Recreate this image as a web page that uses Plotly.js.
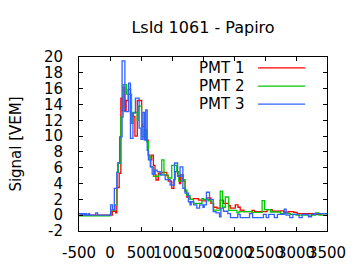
<!DOCTYPE html>
<html><head><meta charset="utf-8">
<script src="https://cdn.plot.ly/plotly-3.0.1.min.js"></script>
<style>html,body{margin:0;padding:0;background:#fff}</style>
</head><body><div id="chart" style="width:360px;height:270px"></div>
<script>
const seriesNames = ["PMT 1", "PMT 2", "PMT 3"];
const seriesColors = ["#ff0000", "#00c800", "#3060ff"];

const pmt1X = [-500, 40, 90, 110, 148, 175, 200, 212, 240, 260, 293, 332, 365, 402, 440, 510, 526, 564, 591, 617, 645, 672, 700, 726, 742, 780, 834, 915, 940, 996, 1030, 1050, 1090, 1119, 1140, 1184, 1211, 1238, 1292, 1346, 1427, 1481, 1562, 1627, 1670, 1724, 1778, 1831, 1912, 1940, 2021, 2064, 2100, 2160, 2237, 2291, 2330, 2534, 2615, 2750, 2800, 2884, 2965, 3020, 3316, 3400, 3500];
const pmt1Y = [0.0, 0.5, 0.3, 3.5, 5.3, 14.8, 13.2, 16.2, 13.2, 14.5, 15.9, 12.9, 12.5, 10.0, 14.5, 11.5, 11.2, 10.5, 9.5, 7.6, 7.0, 7.6, 6.3, 5.1, 4.45, 5.3, 5.4, 5.0, 4.3, 3.4, 4.5, 5.5, 5.0, 4.0, 5.1, 4.3, 3.0, 2.3, 2.0, 2.1, 1.9, 1.8, 2.2, 1.5, 1.0, 0.9, 1.9, 1.5, 1.2, 0.9, 1.3, 1.0, 0.65, 0.45, 0.45, 0.6, 0.45, 0.7, 0.5, 0.55, 0.4, 0.45, 0.35, 0.2, 0.1, 0.2, 0.2];

const pmt2X = [-500, 0, 25, 83, 115, 135, 175, 212, 267, 348, 374, 439, 455, 510, 548, 590, 620, 660, 700, 780, 834, 870, 936, 996, 1077, 1110, 1158, 1180, 1211, 1238, 1290, 1346, 1482, 1508, 1590, 1640, 1670, 1778, 1815, 1860, 1915, 2048, 2080, 2290, 2453, 2495, 2588, 2750, 2910, 3000, 3316, 3370, 3500];
const pmt2Y = [-0.1, 0.1, 0.65, 1.3, 5.4, 6.6, 12.4, 16.5, 15.3, 11.6, 13.0, 12.0, 13.8, 9.9, 10.8, 9.3, 7.5, 6.1, 4.9, 5.1, 7.0, 5.1, 4.7, 6.3, 5.5, 4.3, 5.0, 4.5, 3.2, 2.5, 2.0, 1.5, 2.1, 2.0, 1.8, 1.5, 0.65, 3.05, 1.0, 2.3, 0.6, 0.3, 0.45, 0.35, 1.85, 0.7, 0.4, 0.2, 0.1, 0.0, 0.3, 0.0, 0.0];

const pmt3X = [-500, -470, -450, -420, -400, -380, -350, -330, -230, -200, 10, 40, 70, 110, 125, 155, 195, 240, 300, 330, 370, 410, 470, 500, 530, 555, 575, 600, 620, 650, 680, 720, 760, 810, 890, 970, 1040, 1090, 1130, 1175, 1210, 1265, 1290, 1310, 1350, 1400, 1445, 1500, 1520, 1555, 1605, 1665, 1710, 1767, 1790, 1830, 1900, 1943, 2060, 2100, 2250, 2300, 2475, 2520, 2560, 2650, 2700, 2810, 2840, 2900, 2950, 3050, 3100, 3200, 3250, 3300, 3500];
const pmt3Y = [0.2, 0.0, 0.2, 0.0, 0.2, 0.0, 0.2, 0.0, 0.3, 0.0, 1.3, 0.7, 3.4, 5.4, 6.6, 9.9, 19.5, 13.1, 16.7, 9.7, 12.9, 14.8, 11.0, 9.6, 13.0, 9.5, 13.3, 8.2, 7.0, 6.1, 5.2, 5.7, 5.5, 5.1, 4.5, 3.8, 6.6, 4.9, 6.1, 3.4, 2.8, 1.7, 1.3, 1.7, 1.3, 0.9, 1.3, 1.0, 1.3, 2.9, 2.0, 0.45, 0.3, -0.2, 0.9, 0.5, 0.2, -0.3, 0.1, -0.3, 0.2, -0.3, 0.1, -0.3, 0.1, -0.3, 0.1, 0.75, 0.0, -0.3, 0.1, -0.3, 0.1, -0.2, 0.1, 0.2, 0.2];

const xTicks = [-500, 0, 500, 1000, 1500, 2000, 2500, 3000, 3500];
const yTicks = [-2, 0, 2, 4, 6, 8, 10, 12, 14, 16, 18, 20];

const xs = [pmt1X, pmt2X, pmt3X];
const ys = [pmt1Y, pmt2Y, pmt3Y];
const traces = xs.map((x, i) => ({
  type: "scatter", mode: "lines", x: x, y: ys[i], name: seriesNames[i],
  line: {color: seriesColors[i], width: 1.3, shape: "hv"}, showlegend: false
}));

const font = {family: "DejaVu Sans", size: 15, color: "#000"};
const legY = [0.937, 0.833, 0.729];
const annotations = seriesNames.map((n, i) => ({
  xref: "paper", yref: "paper", x: 0.672, y: legY[i], text: n, showarrow: false,
  xanchor: "right", yanchor: "middle", font: font
}));
const shapes = seriesNames.map((n, i) => ({
  type: "line", xref: "paper", yref: "paper", x0: 0.722, x1: 0.912, y0: legY[i], y1: legY[i],
  line: {color: seriesColors[i], width: 1.3}
}));

const layout = {
  width: 360, height: 270,
  margin: {l: 79, r: 33, t: 57, b: 39},
  paper_bgcolor: "#fff", plot_bgcolor: "#fff",
  font: font,
  title: {text: "LsId 1061 - Papiro", x: 0.5, xref: "paper", y: 0.9, yref: "container", yanchor: "middle", font: {family: "DejaVu Sans", size: 16, color: "#000"}},
  xaxis: {range: [-500, 3500], tickvals: xTicks, ticktext: xTicks.map(String), tickangle: 0,
    ticks: "inside", ticklen: 4, tickcolor: "#000", showline: true, linecolor: "#000", linewidth: 1,
    mirror: "ticks", showgrid: false, zeroline: false, ticklabelstandoff: 8, tickfont: font},
  yaxis: {range: [-2, 20], tickvals: yTicks, ticktext: yTicks.map(String),
    ticks: "inside", ticklen: 4, tickcolor: "#000", showline: true, linecolor: "#000", linewidth: 1,
    mirror: "ticks", showgrid: false, zeroline: false, ticklabelstandoff: 12, tickfont: font,
    title: {text: "Signal [VEM]", font: font, standoff: 18}},
  annotations: annotations, shapes: shapes, showlegend: false
};
Plotly.newPlot("chart", traces, layout, {staticPlot: true, displayModeBar: false});
</script></body></html>
